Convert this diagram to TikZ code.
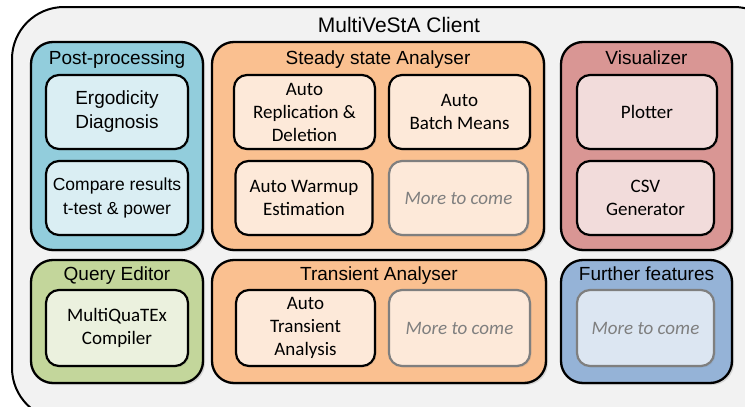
\documentclass[tikz,border=0pt]{standalone}
\usepackage{fontspec}
\setmainfont{Liberation Sans}
\newfontfamily\calibri{Carlito}
\usetikzlibrary{shadows}

\definecolor{clientfill}{HTML}{F2F2F2}
\definecolor{postfill}{HTML}{92CDDC}
\definecolor{postpart}{HTML}{DAEEF3}
\definecolor{steadyfill}{HTML}{FAC090}
\definecolor{steadypart}{HTML}{FDE9D9}
\definecolor{visfill}{HTML}{D99694}
\definecolor{vispart}{HTML}{F2DCDB}
\definecolor{queryfill}{HTML}{C3D69B}
\definecolor{querypart}{HTML}{EBF1DE}
\definecolor{furtherfill}{HTML}{95B3D7}
\definecolor{furtherpart}{HTML}{DCE6F2}
\definecolor{moregray}{HTML}{7F7F7F}

\tikzset{
  group/.style={draw, line width=2.3pt, rounded corners=22pt,
    drop shadow={shadow xshift=2pt, shadow yshift=-2pt, opacity=0.25}},
  box/.style={draw, line width=2.2pt, rounded corners=13pt, align=center,
    drop shadow={shadow xshift=1.5pt, shadow yshift=-1.5pt, opacity=0.15}},
  part/.style={box, font=\calibri\fontsize{19}{23}\selectfont},
  armpart/.style={box, font=\fontsize{#1}{24}\selectfont},
  later/.style={box, draw=moregray, text=moregray,
    font=\calibri\itshape\fontsize{19}{23}\selectfont},
  heading/.style={anchor=base, inner sep=0pt, font=\fontsize{19}{22}\selectfont},
}

\begin{document}
\begin{tikzpicture}[x=1pt, y=-1pt]
    \useasboundingbox (0,0) rectangle (745,407);
    \clip (0,0) rectangle (745,407);

    % Client frame
    \node[draw, line width=2pt, rounded corners=52pt, fill=clientfill, minimum width=774pt, minimum height=413pt] (client) at (399,213.5) {};
    \node[heading, font=\fontsize{21}{24}\selectfont] (client title) at (399,32) {MultiVeStA Client};

    % Post-processing
    \node[group, fill=postfill, minimum width=172pt, minimum height=208pt] (post) at (117,146) {};
    \node[heading] (post title) at (117,64) {Post-processing};
    \node[armpart=19, fill=postpart, minimum width=142pt, minimum height=74pt] (ergo) at (117,112) {Ergodicity\\Diagnosis};
    \node[armpart=17.5, fill=postpart, minimum width=142pt, minimum height=74pt] (compare) at (117,198) {Compare results\\t-test \& power};

    % Steady state Analyser
    \node[group, fill=steadyfill, minimum width=332pt, minimum height=208pt] (steady) at (378,146) {};
    \node[heading] (steady title) at (378,64) {Steady state Analyser};
    \node[part, fill=steadypart, minimum width=141pt, minimum height=74pt] (repl) at (304.5,112) {Auto\\Replication \&\\Deletion};
    \node[part, fill=steadypart, minimum width=141pt, minimum height=74pt] (batch) at (459.5,112) {Auto\\Batch Means};
    \node[part, fill=steadypart, minimum width=137pt, minimum height=74pt] (warmup) at (304,198) {Auto Warmup\\Estimation};
    \node[later, fill=steadypart, minimum width=139pt, minimum height=74pt] (steady more) at (458.5,198) {More to come};

    % Visualizer
    \node[group, fill=visfill, minimum width=171pt, minimum height=208pt] (vis) at (646.5,146) {};
    \node[heading] (vis title) at (646.5,64) {Visualizer};
    \node[part, fill=vispart, minimum width=140pt, minimum height=74pt] (plotter) at (647,112) {Plotter};
    \node[part, fill=vispart, minimum width=137pt, minimum height=74pt] (csv) at (645.5,198) {CSV\\Generator};

    % Query Editor
    \node[group, fill=queryfill, minimum width=172pt, minimum height=123pt] (query) at (117,321.5) {};
    \node[heading] (query title) at (117,280) {Query Editor};
    \node[part, fill=querypart, minimum width=142pt, minimum height=76pt] (compiler) at (117,328) {MultiQuaTEx\\Compiler};

    % Transient Analyser
    \node[group, fill=steadyfill, minimum width=334pt, minimum height=123pt] (trans) at (379,321.5) {};
    \node[heading] (trans title) at (379,280) {Transient Analyser};
    \node[part, fill=steadypart, minimum width=139pt, minimum height=76pt] (auto trans) at (305.5,328) {Auto\\Transient\\Analysis};
    \node[later, fill=steadypart, minimum width=141pt, minimum height=76pt] (trans more) at (459.5,328) {More to come};

    % Further features
    \node[group, fill=furtherfill, minimum width=171pt, minimum height=123pt] (further) at (646.5,321.5) {};
    \node[heading] (further title) at (646.5,280) {Further features};
    \node[later, fill=furtherpart, minimum width=137pt, minimum height=76pt] (further more) at (645.5,328) {More to come};
\end{tikzpicture}
\end{document}
